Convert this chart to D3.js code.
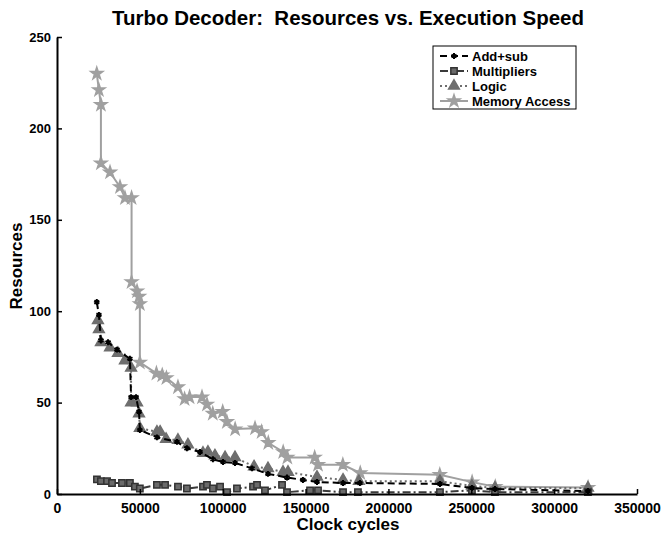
<!DOCTYPE html>
<html>
<head>
<meta charset="utf-8">
<script src="https://cdn.jsdelivr.net/npm/d3@7"></script>
<style>
body{margin:0;background:#fff;}
text{font-family:"Liberation Sans",Arial,sans-serif;font-weight:bold;white-space:pre;}
</style>
</head>
<body>
<svg id="chart" width="661" height="538"></svg>
<script>
// data: [clock cycles, resources]
var addSub = [[24000,105],[25300,98],[26500,84],[30800,83],[36200,79],[44000,74],[44700,53],[47700,53],
  [49500,45],[50000,35],[60300,31],[72400,28.5],[78400,25],[86300,23],[94100,19],[100200,17.5],[107400,17],
  [117700,14],[127300,11],[138800,9],[148400,7.7],[156900,6.6],[172600,6],[182800,6],[231100,5.5],
  [250400,3.3],[264300,2.7],[320400,1.6]]
var multipliers = [[24100,8],[26500,7],[30200,7],[33200,6],[39200,6],[44000,6],[47000,4],[50000,3],
  [60300,5],[65200,5],[73000,4],[78400,3],[88100,4],[90500,5],[94100,3],[98400,4],[102600,1],[108600,3],
  [118300,4],[120700,5],[125500,2],[135800,5],[138800,1],[152700,2],[157500,2],[172600,1],[181600,1],
  [231100,1],[250400,2],[264300,1],[320400,1]]
var logic = [[24700,95],[25300,90],[26500,83],[32000,80],[36800,77],[41000,73],[44700,69],[44700,50],
  [48300,50],[49500,44],[50000,36],[60300,34],[62200,34],[65800,30],[73000,29.5],[79000,27],[88100,22.4],
  [91100,23],[95300,21],[101400,20],[107400,20],[118900,15],[127300,14],[136400,12],[139400,12],
  [156900,9.3],[172600,7.7],[182200,7],[231100,7],[250400,4.4],[264300,3.3],[320400,3.3]]
var memory = [[24000,230],[25300,221],[26500,213],[26500,181],[32000,176],[38000,168],[41000,162],[45000,162],
  [45000,116],[48300,111],[49500,108],[50000,104],[50000,72],[60000,66],[63500,65],[66000,63.5],[73000,58.5],
  [77000,52],[80000,53],[87500,53],[90500,49],[94000,44],[100000,45],[102500,39.5],[107500,35.5],[119500,36],
  [123500,34],[127500,28],[136500,23],[139000,20],[155500,20],[157500,16],[172500,16],[183000,11.5],
  [231000,10.5],[250500,6.5],[264500,4],[320500,3.5]]
var seriesNames = ['Add+sub','Multipliers','Logic','Memory Access']
var xTicks = [0,50000,100000,150000,200000,250000,300000,350000]
var yTicks = [0,50,100,150,200,250]

var svg = d3.select('#chart')
var x = d3.scaleLinear().domain([0,350000]).range([57,637])
var y = d3.scaleLinear().domain([0,250]).range([494,37])

var series = [
  {name:seriesNames[0], data:addSub, color:'#000', dash:'7,4', sym:d3.symbolAsterisk, size:24, fill:'none', stroke:'#000'},
  {name:seriesNames[1], data:multipliers, color:'#3a3a3a', dash:'8,3,2,3', sym:d3.symbolSquare, size:40, fill:'#6a6a6a', stroke:'#333'},
  {name:seriesNames[2], data:logic, color:'#6e6e6e', dash:'2,3', sym:d3.symbolTriangle, size:50, fill:'#6e6e6e', stroke:'#6e6e6e'},
  {name:seriesNames[3], data:memory, color:'#a0a0a0', dash:null, sym:d3.symbolStar, size:45, fill:'#a0a0a0', stroke:'#a0a0a0'}
]

var line = d3.line().x(function(d){ return x(d[0]) }).y(function(d){ return y(d[1]) })

// draw memory first so darker series sit on top
series.slice().reverse().forEach(function(s){
  var g = svg.append('g')
  g.append('path').attr('d', line(s.data)).attr('fill','none')
    .attr('stroke', s.color).attr('stroke-width', 2)
    .attr('stroke-dasharray', s.dash)
  g.selectAll('path.m').data(s.data).enter().append('path').attr('class','m')
    .attr('transform', function(d){ return 'translate('+x(d[0])+','+y(d[1])+')' })
    .attr('d', d3.symbol().type(s.sym).size(s.size))
    .attr('fill', s.fill).attr('stroke', s.stroke).attr('stroke-width', s.fill=='none' ? 2 : 1.5)
})

// axes, ticks pointing inward
var xAxis = svg.append('g').attr('transform','translate(0,494)')
  .call(d3.axisBottom(x).tickValues(xTicks).tickSize(-5).tickPadding(9).tickSizeOuter(0).tickFormat(d3.format('d')))
var yAxis = svg.append('g').attr('transform','translate(57,0)')
  .call(d3.axisLeft(y).tickValues(yTicks).tickSize(-5).tickPadding(6).tickSizeOuter(0))
svg.selectAll('.domain').attr('stroke','#000').attr('stroke-width',2)
svg.selectAll('.tick line').attr('stroke','#000').attr('stroke-width',1.5)
svg.selectAll('.tick text').attr('font-size',14).attr('font-weight','bold').attr('fill','#000')
  .attr('font-family','"Liberation Sans",Arial,sans-serif')
yAxis.selectAll('.tick text').attr('font-size',13)

// titles
svg.append('text').attr('x',348).attr('y',25).attr('text-anchor','middle')
  .attr('font-size',21).attr('textLength',472).attr('lengthAdjust','spacingAndGlyphs')
  .text('Turbo Decoder:  Resources vs. Execution Speed')
svg.append('text').attr('x',348).attr('y',530).attr('text-anchor','middle')
  .attr('font-size',17).text('Clock cycles')
svg.append('text').attr('transform','translate(22,266) rotate(-90)').attr('text-anchor','middle')
  .attr('font-size',17).text('Resources')

// legend
var leg = svg.append('g')
leg.append('rect').attr('x',433).attr('y',46).attr('width',143).attr('height',63)
  .attr('fill','#fff').attr('stroke','#000').attr('stroke-width',1)
series.forEach(function(s,i){
  var ly = 56 + i*15
  leg.append('line').attr('x1',440).attr('x2',468).attr('y1',ly).attr('y2',ly)
    .attr('stroke',s.color).attr('stroke-width',2).attr('stroke-dasharray',s.dash)
  leg.append('path').attr('transform','translate(454,'+ly+')')
    .attr('d', d3.symbol().type(s.sym).size(s.size))
    .attr('fill', s.fill).attr('stroke', s.stroke).attr('stroke-width', s.fill=='none' ? 2 : 1.5)
  leg.append('text').attr('x',472).attr('y',ly+4.5).attr('font-size',13).text(s.name)
})
</script>
</body>
</html>
